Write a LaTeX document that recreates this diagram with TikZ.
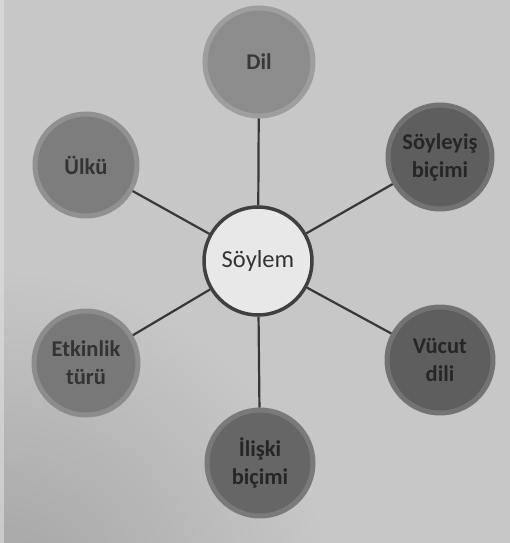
\documentclass[tikz,border=0pt]{standalone}
\usepackage{fontspec}
\setmainfont{Carlito}
\begin{document}
\begin{tikzpicture}[x=1pt,y=-1pt,
  bub/.style={circle, inner sep=0pt, minimum size=#1, align=center,
    font=\fontsize{22.5}{28}\selectfont\bfseries, line width=5pt},
  edge/.style={draw=black!78, line width=2.2pt}]
\useasboundingbox (0,0) rectangle (510,543);
\fill[black!22] (0,0) rectangle (510,543);
\begin{scope}
\clip (0,0) rectangle (510,543);
\shade[inner color=black!36, outer color=black!22] (0,600) circle (330pt);
\end{scope}
\fill[white!88!black, opacity=0.6] (0,0) rectangle (4,543);
% outer nodes
\node[bub=108pt, fill=black!45, draw=black!38, text=black!78] (dil) at (259,62) {Dil};
\node[bub=104pt, fill=black!63, draw=black!55, text=black!85] (soy) at (440,157) {Söyleyiş\\biçimi};
\node[bub=102pt, fill=black!51, draw=black!43, text=black!80] (ulk) at (86,165) {Ülkü};
\node[bub=104pt, fill=black!53, draw=black!45, text=black!80] (etk) at (86,363) {Etkinlik\\türü};
\node[bub=106pt, fill=black!63, draw=black!55, text=black!85] (vuc) at (440,360) {Vücut\\dili};
\node[bub=106pt, fill=black!60, draw=black!52, text=black!85] (ili) at (260,463) {İlişki\\biçimi};
% centre
\node[circle, inner sep=0pt, minimum size=108pt, fill=black!9, draw=black!75, line width=3.5pt,
  text=black!80, font=\fontsize{24.5}{28}\selectfont] (sm) at (258,261) {Söylem};
% connectors
\draw[edge] (sm) -- (dil);
\draw[edge] (sm) -- (soy);
\draw[edge] (sm) -- (ulk);
\draw[edge] (sm) -- (etk);
\draw[edge] (sm) -- (vuc);
\draw[edge] (sm) -- (ili);
\end{tikzpicture}
\end{document}
